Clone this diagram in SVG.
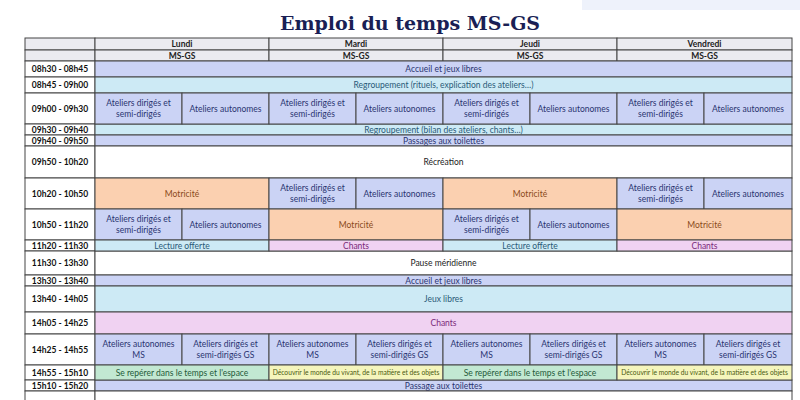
<svg xmlns="http://www.w3.org/2000/svg" width="800" height="400" viewBox="0 0 800 400">
<style>
text{font-family:Lato,"Liberation Sans",sans-serif;font-size:8.5px;fill:#2a3470;text-anchor:middle}
.t{font-weight:bold;fill:#111;font-size:8.5px}
.h{font-weight:bold;fill:#222}
.title{font-family:"DejaVu Serif",serif;font-weight:bold;font-size:19px;fill:#1a1f55}
rect{stroke:#444;stroke-width:1}
.lav{fill:#cbd3f5}.blu{fill:#cdeaf5}.ora{fill:#fbd0b0}.pin{fill:#f0d2f2}.gre{fill:#c2e8d2}.yel{fill:#f5f5bc}.wh{fill:#fff}.hd{fill:#ebebf0}
.mo{fill:#8a4a1a}.ch{fill:#7a2a7a}.gr{fill:#245a3a}.ye{fill:#4a5a10;font-size:6.7px}.bl{fill:#2a5a78}
</style>
<rect x="582" y="0" width="218" height="10" style="fill:#eef2fb;stroke:none"/>
<text class="title" x="410" y="30">Emploi du temps MS-GS</text>
<g id="header">
<rect class="hd" x="25" y="38" width="70" height="12"/><rect class="hd" x="25" y="50" width="70" height="11"/>
<rect class="hd" x="95" y="38" width="174" height="12"/><rect class="hd" x="269" y="38" width="174" height="12"/><rect class="hd" x="443" y="38" width="174" height="12"/><rect class="hd" x="617" y="38" width="175" height="12"/>
<rect class="hd" x="95" y="50" width="174" height="11"/><rect class="hd" x="269" y="50" width="174" height="11"/><rect class="hd" x="443" y="50" width="174" height="11"/><rect class="hd" x="617" y="50" width="175" height="11"/>
<text class="h" x="182" y="47">Lundi</text><text class="h" x="356" y="47">Mardi</text><text class="h" x="530" y="47">Jeudi</text><text class="h" x="704.5" y="47">Vendredi</text>
<text class="h" x="182" y="58.5">MS-GS</text><text class="h" x="356" y="58.5">MS-GS</text><text class="h" x="530" y="58.5">MS-GS</text><text class="h" x="704.5" y="58.5">MS-GS</text>
</g>
<g id="times">
<rect class="wh" x="25" y="61" width="70" height="16"/><text class="t" x="60" y="72">08h30 - 08h45</text>
<rect class="wh" x="25" y="77" width="70" height="16"/><text class="t" x="60" y="88">08h45 - 09h00</text>
<rect class="wh" x="25" y="93" width="70" height="31"/><text class="t" x="60" y="111.5">09h00 - 09h30</text>
<rect class="wh" x="25" y="124" width="70" height="11"/><text class="t" x="60" y="132.5">09h30 - 09h40</text>
<rect class="wh" x="25" y="135" width="70" height="11"/><text class="t" x="60" y="143.5">09h40 - 09h50</text>
<rect class="wh" x="25" y="146" width="70" height="32"/><text class="t" x="60" y="165">09h50 - 10h20</text>
<rect class="wh" x="25" y="178" width="70" height="31"/><text class="t" x="60" y="196.5">10h20 - 10h50</text>
<rect class="wh" x="25" y="209" width="70" height="31"/><text class="t" x="60" y="227.5">10h50 - 11h20</text>
<rect class="wh" x="25" y="240" width="70" height="11"/><text class="t" x="60" y="248.5">11h20 - 11h30</text>
<rect class="wh" x="25" y="251" width="70" height="24"/><text class="t" x="60" y="266">11h30 - 13h30</text>
<rect class="wh" x="25" y="275" width="70" height="11"/><text class="t" x="60" y="283.5">13h30 - 13h40</text>
<rect class="wh" x="25" y="286" width="70" height="26"/><text class="t" x="60" y="302">13h40 - 14h05</text>
<rect class="wh" x="25" y="312" width="70" height="22"/><text class="t" x="60" y="326">14h05 - 14h25</text>
<rect class="wh" x="25" y="334" width="70" height="31"/><text class="t" x="60" y="352.5">14h25 - 14h55</text>
<rect class="wh" x="25" y="365" width="70" height="15"/><text class="t" x="60" y="375.5">14h55 - 15h10</text>
<rect class="wh" x="25" y="380" width="70" height="11"/><text class="t" x="60" y="388.5">15h10 - 15h20</text>
<rect class="wh" x="25" y="391" width="70" height="12"/>
</g>
<g id="full">
<rect class="lav" x="95" y="61" width="697" height="16"/><text x="443.5" y="72">Accueil et jeux libres</text>
<rect class="blu" x="95" y="77" width="697" height="16"/><text class="bl" x="443.5" y="88">Regroupement (rituels, explication des ateliers…)</text>
<rect class="blu" x="95" y="124" width="697" height="11"/><text class="bl" x="443.5" y="132.5">Regroupement (bilan des ateliers, chants…)</text>
<rect class="lav" x="95" y="135" width="697" height="11"/><text x="443.5" y="143.5">Passages aux toilettes</text>
<rect class="wh" x="95" y="146" width="697" height="32"/><text style="fill:#222" x="443.5" y="165">Récréation</text>
<rect class="wh" x="95" y="251" width="697" height="24"/><text style="fill:#222" x="443.5" y="266">Pause méridienne</text>
<rect class="lav" x="95" y="275" width="697" height="11"/><text x="443.5" y="283.5">Accueil et jeux libres</text>
<rect class="blu" x="95" y="286" width="697" height="26"/><text class="bl" x="443.5" y="302">Jeux libres</text>
<rect class="pin" x="95" y="312" width="697" height="22"/><text class="ch" x="443.5" y="326">Chants</text>
<rect class="lav" x="95" y="380" width="697" height="11"/><text x="443.5" y="388.5">Passage aux toilettes</text>
<rect class="wh" x="95" y="391" width="697" height="12"/>
</g>
<g id="ateliers">
<rect class="lav" x="95" y="93" width="87" height="31"/><text x="138.5" y="106">Ateliers dirigés et</text><text x="138.5" y="117">semi-dirigés</text>
<rect class="lav" x="182" y="93" width="87" height="31"/><text x="225.5" y="111.5">Ateliers autonomes</text>
<rect class="lav" x="269" y="93" width="87" height="31"/><text x="312.5" y="106">Ateliers dirigés et</text><text x="312.5" y="117">semi-dirigés</text>
<rect class="lav" x="356" y="93" width="87" height="31"/><text x="399.5" y="111.5">Ateliers autonomes</text>
<rect class="lav" x="443" y="93" width="87" height="31"/><text x="486.5" y="106">Ateliers dirigés et</text><text x="486.5" y="117">semi-dirigés</text>
<rect class="lav" x="530" y="93" width="87" height="31"/><text x="573.5" y="111.5">Ateliers autonomes</text>
<rect class="lav" x="617" y="93" width="87" height="31"/><text x="660.5" y="106">Ateliers dirigés et</text><text x="660.5" y="117">semi-dirigés</text>
<rect class="lav" x="704" y="93" width="88" height="31"/><text x="748" y="111.5">Ateliers autonomes</text>
</g>
<g id="r1020">
<rect class="ora" x="95" y="178" width="174" height="31"/><text class="mo" x="182" y="196.5">Motricité</text>
<rect class="lav" x="269" y="178" width="87" height="31"/><text x="312.5" y="191">Ateliers dirigés et</text><text x="312.5" y="202">semi-dirigés</text>
<rect class="lav" x="356" y="178" width="87" height="31"/><text x="399.5" y="196.5">Ateliers autonomes</text>
<rect class="ora" x="443" y="178" width="174" height="31"/><text class="mo" x="530" y="196.5">Motricité</text>
<rect class="lav" x="617" y="178" width="87" height="31"/><text x="660.5" y="191">Ateliers dirigés et</text><text x="660.5" y="202">semi-dirigés</text>
<rect class="lav" x="704" y="178" width="88" height="31"/><text x="748" y="196.5">Ateliers autonomes</text>
</g>
<g id="r1050">
<rect class="lav" x="95" y="209" width="87" height="31"/><text x="138.5" y="222">Ateliers dirigés et</text><text x="138.5" y="233">semi-dirigés</text>
<rect class="lav" x="182" y="209" width="87" height="31"/><text x="225.5" y="227.5">Ateliers autonomes</text>
<rect class="ora" x="269" y="209" width="174" height="31"/><text class="mo" x="356" y="227.5">Motricité</text>
<rect class="lav" x="443" y="209" width="87" height="31"/><text x="486.5" y="222">Ateliers dirigés et</text><text x="486.5" y="233">semi-dirigés</text>
<rect class="lav" x="530" y="209" width="87" height="31"/><text x="573.5" y="227.5">Ateliers autonomes</text>
<rect class="ora" x="617" y="209" width="175" height="31"/><text class="mo" x="704.5" y="227.5">Motricité</text>
</g>
<g id="r1120">
<rect class="blu" x="95" y="240" width="174" height="11"/><text class="bl" x="182" y="248.5">Lecture offerte</text>
<rect class="pin" x="269" y="240" width="174" height="11"/><text class="ch" x="356" y="248.5">Chants</text>
<rect class="blu" x="443" y="240" width="174" height="11"/><text class="bl" x="530" y="248.5">Lecture offerte</text>
<rect class="pin" x="617" y="240" width="175" height="11"/><text class="ch" x="704.5" y="248.5">Chants</text>
</g>
<g id="r1425">
<rect class="lav" x="95" y="334" width="87" height="31"/><text x="138.5" y="347">Ateliers autonomes</text><text x="138.5" y="358">MS</text>
<rect class="lav" x="182" y="334" width="87" height="31"/><text x="225.5" y="347">Ateliers dirigés et</text><text x="225.5" y="358">semi-dirigés GS</text>
<rect class="lav" x="269" y="334" width="87" height="31"/><text x="312.5" y="347">Ateliers autonomes</text><text x="312.5" y="358">MS</text>
<rect class="lav" x="356" y="334" width="87" height="31"/><text x="399.5" y="347">Ateliers dirigés et</text><text x="399.5" y="358">semi-dirigés GS</text>
<rect class="lav" x="443" y="334" width="87" height="31"/><text x="486.5" y="347">Ateliers autonomes</text><text x="486.5" y="358">MS</text>
<rect class="lav" x="530" y="334" width="87" height="31"/><text x="573.5" y="347">Ateliers dirigés et</text><text x="573.5" y="358">semi-dirigés GS</text>
<rect class="lav" x="617" y="334" width="87" height="31"/><text x="660.5" y="347">Ateliers autonomes</text><text x="660.5" y="358">MS</text>
<rect class="lav" x="704" y="334" width="88" height="31"/><text x="748" y="347">Ateliers dirigés et</text><text x="748" y="358">semi-dirigés GS</text>
</g>
<g id="r1455">
<rect class="gre" x="95" y="365" width="174" height="15"/><text class="gr" x="182" y="375.5">Se repérer dans le temps et l'espace</text>
<rect class="yel" x="269" y="365" width="174" height="15"/><text class="ye" x="356" y="375">Découvrir le monde du vivant, de la matière et des objets</text>
<rect class="gre" x="443" y="365" width="174" height="15"/><text class="gr" x="530" y="375.5">Se repérer dans le temps et l'espace</text>
<rect class="yel" x="617" y="365" width="175" height="15"/><text class="ye" x="704.5" y="375">Découvrir le monde du vivant, de la matière et des objets</text>
</g>
</svg>
